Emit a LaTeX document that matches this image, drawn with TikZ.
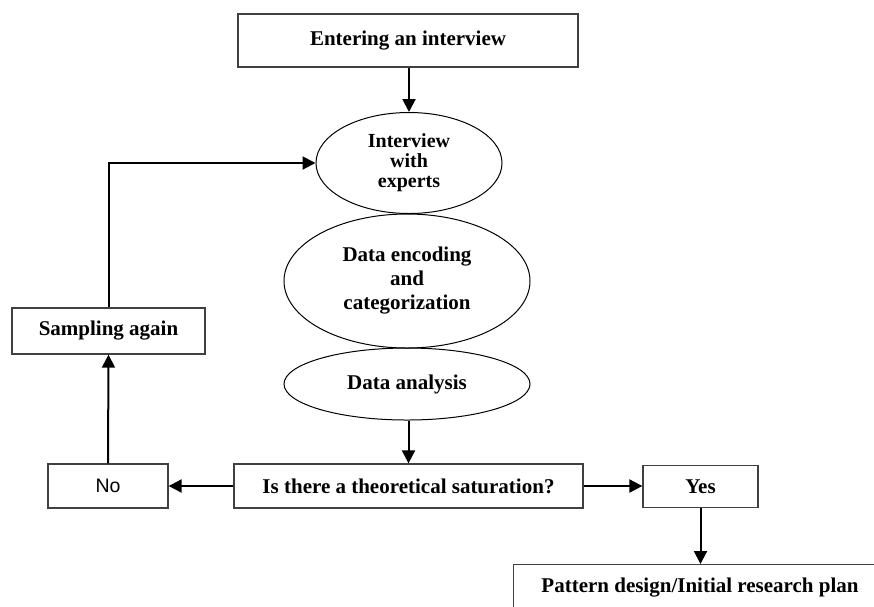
\documentclass[tikz,border=0pt]{standalone}
\usepackage{fontspec}
\setmainfont{Liberation Serif}
\newfontfamily\arialfont{Liberation Sans}
\usetikzlibrary{arrows.meta,shapes.geometric}
\tikzset{
  box/.style={draw=black!75, line width=1.3pt, rectangle, inner sep=0pt,
    font=\fontsize{21}{24}\selectfont\bfseries, align=center},
  ell/.style={draw=black, line width=1pt, ellipse, inner sep=0pt,
    font=\fontsize{21}{24}\selectfont\bfseries, align=center},
  arr/.style={line width=2pt, -{Triangle[length=13pt,width=13pt]}},
  ln/.style={line width=2pt}
}
\begin{document}
\begin{tikzpicture}[x=1pt,y=-1pt]
\clip (0,0) rectangle (874,606);
\fill[white] (0,0) rectangle (874,606);
\node[box, minimum width=340, minimum height=53] (enter) at (408,40.5) {Entering an interview};
\node[ell, minimum width=186, minimum height=101, font=\fontsize{20}{20}\selectfont\bfseries] (ell1) at (409,163) {Interview\\with\\experts};
\node[ell, minimum width=246, minimum height=134] (ell2) at (407,281) {Data encoding\\and\\categorization};
\node[ell, minimum width=246, minimum height=72] (ell3) at (407,384) {Data analysis};
\node[box, minimum width=349, minimum height=44] (q) at (408.5,486) {Is there a theoretical saturation?};
\node[box, minimum width=120, minimum height=44, font=\fontsize{19.5}{24}\selectfont\arialfont] (no) at (108,486) {No};
\node[box, minimum width=115, minimum height=42] (yes) at (700.5,486.5) {Yes};
\node[box, minimum width=193, minimum height=46] (samp) at (108.5,331) {Sampling again};
\node[box, anchor=north west, minimum width=400, minimum height=70] (plan) at (513,564) {};
\node[font=\fontsize{21}{24}\selectfont\bfseries] (plantext) at (700,588) {Pattern design/Initial research plan};
\draw[arr] (enter.south -| ell1.north) -- (ell1.north);
\draw[arr] (ell3.south -| q.north) -- (q.north);
\draw[arr] (q.west) -- (q.west -| no.east);
\draw[arr] (q.east) -- (q.east -| yes.west);
\draw[arr] (yes.south) -- (yes.south |- plan.north);
\draw[arr] (no.north) -- (samp.south);
\draw[arr] (samp.north) |- (ell1.west);
\end{tikzpicture}
\end{document}
